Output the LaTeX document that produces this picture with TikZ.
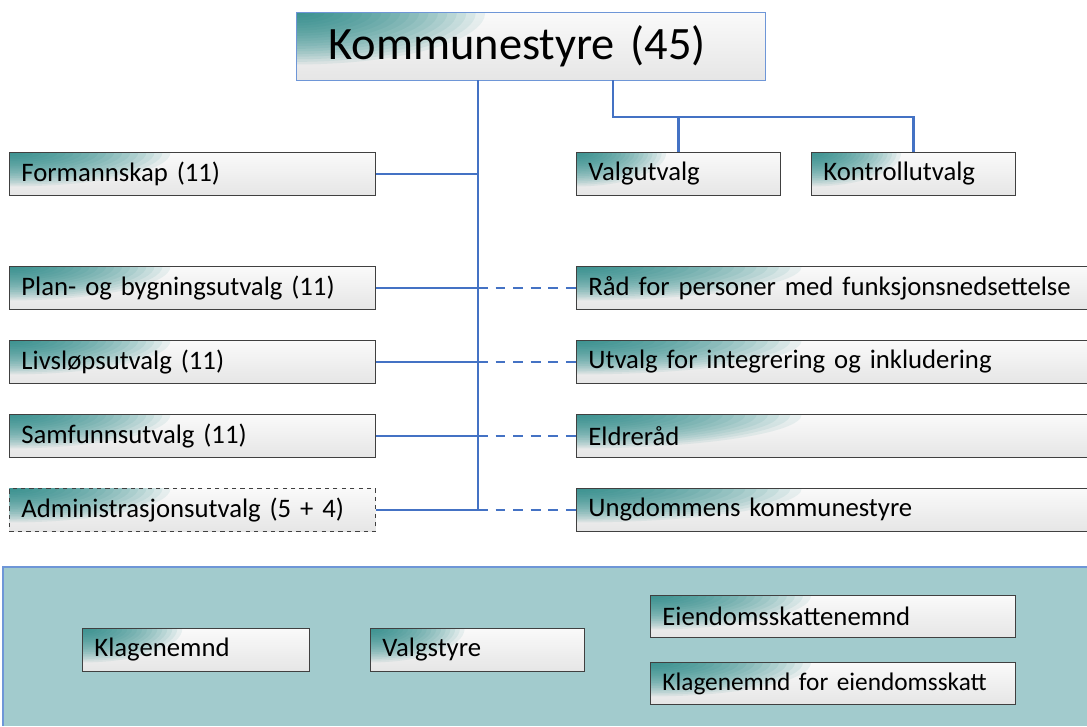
\documentclass[tikz,border=0pt]{standalone}
\usepackage{fontspec}
\setmainfont{Carlito}
\usetikzlibrary{positioning,calc}
\definecolor{linjeblaa}{RGB}{68,114,196}
\definecolor{rammeblaa}{RGB}{110,150,215}
\definecolor{hjorne}{RGB}{22,128,126}
\definecolor{panelfarge}{RGB}{162,203,205}
\tikzset{hjornehoyde/.initial=0.85cm}

\begin{document}
\begin{tikzpicture}[x=0.025cm, y=-0.025cm,
    boks/.style={draw=black!75, line width=0.6pt, top color=gray!4, bottom color=gray!20,
        anchor=north west, minimum height=1.075cm, inner xsep=0.3cm, inner ysep=0pt,
        align=left, text width=#1, font=\fontsize{19}{22}\selectfont,
        path picture={\foreach \k in {1,...,20}
            \fill[hjorne, fill opacity=0.08] (path picture bounding box.north west)
            ellipse [x radius={\k/20*0.44*(#1+0.6cm)}, y radius={\k/20*\pgfkeysvalueof{/tikz/hjornehoyde}}];}},
    linje/.style={draw=linjeblaa, line width=1.5pt},
    stiplet/.style={linje, dash pattern=on 7pt off 5.5pt}]

    \useasboundingbox (0,0) rectangle (1087,726);

    % Bunnfelt
    \fill[panelfarge] (3,567) rectangle (1087,726);
    \draw[rammeblaa, line width=1pt] (3,726) -- (3,567) -- (1087,567);

    % Kommunestyret
    \node[boks=10.125cm, draw=rammeblaa, inner xsep=0.8cm, minimum height=1.7cm, hjornehoyde=1.3cm,
          font=\fontsize{33}{38}\selectfont] (kommunestyre) at (296,12) {Kommunestyre (45)};

    % Utvalg til venstre
    \node[boks=8.55cm] (formannskap) at (9,152) {Formannskap (11)};
    \node[boks=8.55cm] (plan) at (9,266) {Plan- og bygningsutvalg (11)};
    \node[boks=8.55cm] (livslop) at (9,340) {Livsløpsutvalg (11)};
    \node[boks=8.55cm] (samfunn) at (9,414) {Samfunnsutvalg (11)};
    \node[boks=8.55cm, dashed] (admin) at (9,488) {Administrasjonsutvalg (5 + 4)};

    % Utvalg til hoyre
    \node[boks=4.5cm] (valgutvalg) at (576,152) {Valgutvalg};
    \node[boks=4.5cm] (kontroll) at (811,152) {Kontrollutvalg};
    \node[boks=12.2cm] (raad) at (576,266) {Råd for personer med funksjonsnedsettelse};
    \node[boks=12.2cm] (integrering) at (576,340) {Utvalg for integrering og inkludering};
    \node[boks=12.2cm] (eldre) at (576,414) {Eldreråd};
    \node[boks=12.2cm] (ungdom) at (576,488) {Ungdommens kommunestyre};

    % Nemnder i bunnfeltet
    \node[boks=5.075cm] (klagenemnd) at (82,628) {Klagenemnd};
    \node[boks=4.75cm] (valgstyre) at (370,628) {Valgstyre};
    \node[boks=8.525cm, minimum height=1.05cm] (eiendom) at (650,595) {Eiendomsskattenemnd};
    \node[boks=8.525cm, minimum height=1.05cm, font=\fontsize{18}{21}\selectfont]
        (klageeiendom) at (650,662) {Klagenemnd for eiendomsskatt};

    % Linjer
    \coordinate (stamme) at (478,80);
    \coordinate (gren) at (613,80);
    \draw[linje] (stamme) -- (admin.east -| stamme);
    \draw[linje] (formannskap.east) -- (formannskap.east -| stamme);
    \draw[linje] (plan.east) -- (plan.east -| stamme);
    \draw[linje] (livslop.east) -- (livslop.east -| stamme);
    \draw[linje] (samfunn.east) -- (samfunn.east -| stamme);
    \draw[linje] (admin.east) -- (admin.east -| stamme);
    \draw[stiplet] (plan.east -| stamme) -- (raad.west);
    \draw[stiplet] (livslop.east -| stamme) -- (integrering.west);
    \draw[stiplet] (samfunn.east -| stamme) -- (eldre.west);
    \draw[stiplet] (admin.east -| stamme) -- (ungdom.west);
    \draw[linje] (gren) -- ++(0,37) coordinate (knekk) -| (kontroll.north);
    \draw[linje] (knekk -| valgutvalg.north) -- (valgutvalg.north);

\end{tikzpicture}
\end{document}
